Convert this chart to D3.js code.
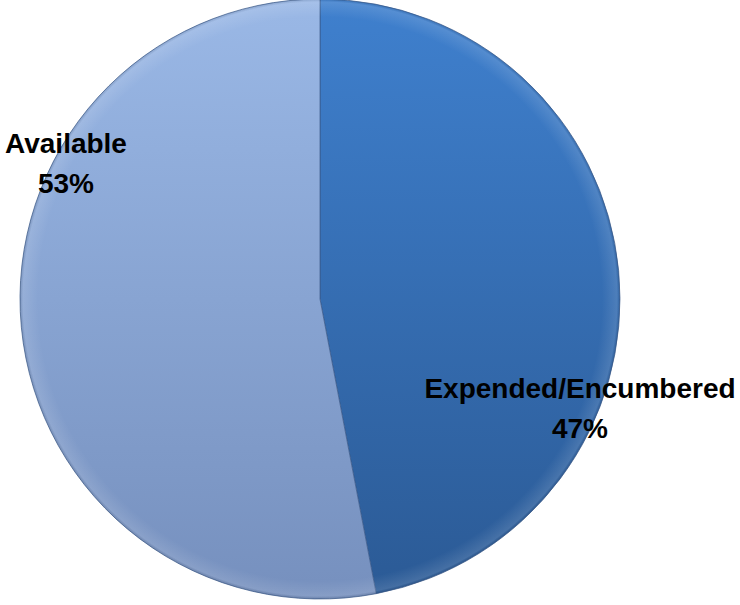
<!DOCTYPE html>
<html>
<head>
<meta charset="utf-8">
<script src="https://cdn.jsdelivr.net/npm/d3@7"></script>
<style>
  body { margin: 0; background: #fff; }
  text { font-family: "Liberation Sans", "DejaVu Sans", sans-serif; font-weight: bold; }
</style>
</head>
<body>
<script>
const labels = ["Expended/Encumbered", "Available"];
const values = [47, 53];
const colorsTop = ["#3f80ce", "#9ab8e6"];
const colorsBottom = ["#2b5a95", "#7690be"];

const width = 740, height = 605;
const cx = 320, cy = 299, radius = 300;

const svg = d3.select("body").append("svg")
    .attr("width", width)
    .attr("height", height);

const defs = svg.append("defs");
values.forEach((v, i) => {
  const g = defs.append("linearGradient")
      .attr("id", "grad" + i)
      .attr("gradientUnits", "userSpaceOnUse")
      .attr("x1", 0).attr("y1", -radius)
      .attr("x2", 0).attr("y2", radius);
  g.append("stop").attr("offset", "0%").attr("stop-color", colorsTop[i]);
  g.append("stop").attr("offset", "100%").attr("stop-color", colorsBottom[i]);
});
// soft bevel toward the rim
const rim = defs.append("radialGradient")
    .attr("id", "rim")
    .attr("gradientUnits", "userSpaceOnUse")
    .attr("cx", 0).attr("cy", 0).attr("r", radius);
rim.append("stop").attr("offset", "94%").attr("stop-color", "#fff").attr("stop-opacity", 0);
rim.append("stop").attr("offset", "99%").attr("stop-color", "#fff").attr("stop-opacity", 0.12);
rim.append("stop").attr("offset", "100%").attr("stop-color", "#000").attr("stop-opacity", 0.1);

const pie = d3.pie().sort(null).value(d => d);
const arc = d3.arc().innerRadius(0).outerRadius(radius);

const g = svg.append("g").attr("transform", `translate(${cx},${cy})`);

const arcs = pie(values);
g.selectAll("path.slice")
  .data(arcs)
  .join("path")
    .attr("class", "slice")
    .attr("d", arc)
    .attr("fill", (d, i) => `url(#grad${i})`)
    .attr("stroke", "#3a5a8a")
    .attr("stroke-opacity", 0.7)
    .attr("stroke-width", 1)
    .attr("stroke-linejoin", "round");

g.append("circle").attr("r", radius).attr("fill", "url(#rim)");

// labels
const labelPos = [[580, 398], [66, 153]];
arcs.forEach((d, i) => {
  const t = svg.append("text")
      .attr("text-anchor", "middle")
      .attr("font-size", 28)
      .attr("fill", "#000");
  t.append("tspan").attr("x", labelPos[i][0]).attr("y", labelPos[i][1]).text(labels[i]);
  t.append("tspan").attr("x", labelPos[i][0]).attr("y", labelPos[i][1] + 40).text(d.data + "%");
});
</script>
</body>
</html>
